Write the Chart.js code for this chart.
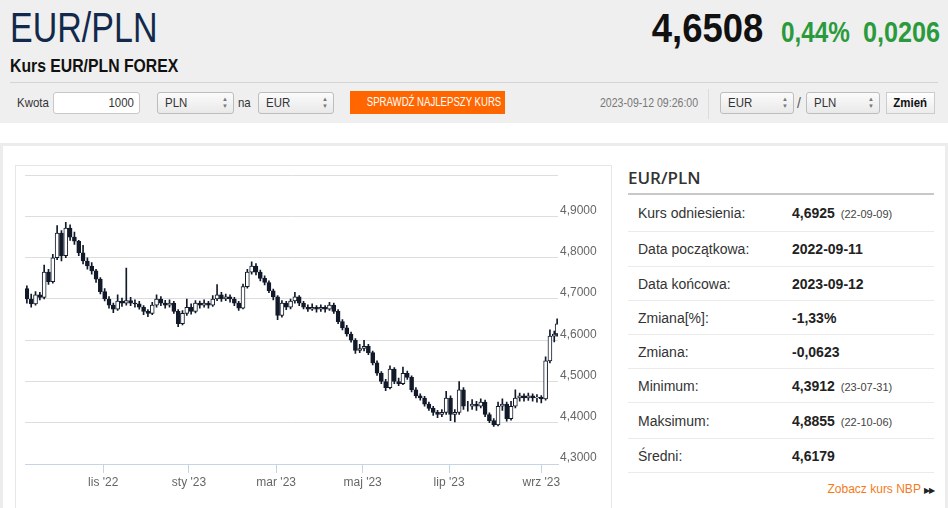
<!DOCTYPE html>
<html lang="pl">
<head>
<meta charset="utf-8">
<title>EUR/PLN</title>
<script src="https://cdn.jsdelivr.net/npm/chart.js@4.4.0/dist/chart.umd.min.js"></script>
<style>
body { margin: 0; width: 948px; height: 508px; overflow: hidden; background: #fff; position: relative; font-family: "Liberation Sans", Arial, sans-serif; color: #333; }
.abs { position: absolute; white-space: nowrap; }
/* no narrow font installed: squeeze Liberation Sans instead */
.sq { transform-origin: left center; }
.sqr { transform-origin: right center; }
.in { display: inline-block; transform-origin: left center; }
.sel { position: absolute; top: 92px; height: 20px; border: 1px solid #bdbdbd; border-radius: 3px; background: linear-gradient(#fbfbfb, #e9e9e9); font-size: 13px; line-height: 20px; padding-left: 7px; box-sizing: content-box; white-space: nowrap; }
.sel .in { transform: scaleX(.88); }
.sel .arr { position: absolute; right: 5px; top: 3px; font-size: 6px; line-height: 7px; color: #777; }
.row { position: absolute; left: 628px; width: 306px; border-bottom: 1px solid #ebebeb; }
.row .lab { position: absolute; left: 10px; top: 50%; transform: translateY(-50%); font-size: 14px; color: #333; white-space: nowrap; }
.row .val { position: absolute; left: 164px; top: 50%; transform: translateY(-50%); font-size: 14px; font-weight: bold; color: #222; white-space: nowrap; }
.row .val small { font-size: 11px; font-weight: normal; color: #444; margin-left: 6px; }
</style>
</head>
<body>

<!-- header -->
<div class="abs" style="left:0;top:0;width:948px;height:123px;background:#efefef"></div>
<div class="abs sq" style="left:10px;top:7px;font-size:42px;line-height:42px;color:#13294b;transform:scaleX(.81)">EUR/PLN</div>
<div class="abs sqr" style="right:185px;top:8px;font-size:41px;line-height:41px;font-weight:bold;color:#111;transform:scaleX(.89)">4,6508</div>
<div class="abs sq" style="left:781px;top:17px;font-size:30px;line-height:30px;font-weight:bold;color:#2a9a3c;transform:scaleX(.81)">0,44%</div>
<div class="abs sq" style="left:863px;top:17px;font-size:30px;line-height:30px;font-weight:bold;color:#2a9a3c;transform:scaleX(.84)">0,0206</div>
<div class="abs sq" style="left:10px;top:56px;font-size:19px;line-height:19px;font-weight:bold;color:#111;transform:scaleX(.83)">Kurs EUR/PLN FOREX</div>
<div class="abs" style="left:10px;top:82px;width:928px;height:1px;background:#d5d5d5"></div>

<div class="abs sq" style="left:17px;top:92px;font-size:13px;line-height:22px;transform:scaleX(.88)">Kwota</div>
<div class="abs" style="left:53px;top:92px;width:80px;height:20px;border:1px solid #c8c8c8;border-radius:3px;background:#fff;font-size:13px;line-height:20px;text-align:right;padding-right:5px"><span class="in" style="transform:scaleX(.88);transform-origin:right center">1000</span></div>
<div class="sel" style="left:157px;width:68px"><span class="in">PLN</span><div class="arr">▲<br>▼</div></div>
<div class="abs sq" style="left:238px;top:92px;font-size:13px;line-height:22px;transform:scaleX(.88)">na</div>
<div class="sel" style="left:258px;width:67px"><span class="in">EUR</span><div class="arr">▲<br>▼</div></div>
<div class="abs" style="left:350px;top:91px;width:155px;height:23px;background:#ff6600;color:#fff;font-size:12px;line-height:23px;text-align:center"><span class="in" style="transform:scaleX(.8);transform-origin:center">SPRAWDŹ NAJLEPSZY KURS</span></div>
<div class="abs sq" style="left:600px;top:92px;font-size:12px;line-height:22px;color:#777;transform:scaleX(.88)">2023-09-12 09:26:00</div>
<div class="abs" style="left:708px;top:89px;width:1px;height:30px;background:#dcdcdc"></div>
<div class="sel" style="left:720px;width:65px"><span class="in">EUR</span><div class="arr">▲<br>▼</div></div>
<div class="abs" style="left:797px;top:92px;font-size:14px;line-height:22px;color:#555">/</div>
<div class="sel" style="left:806px;width:65px"><span class="in">PLN</span><div class="arr">▲<br>▼</div></div>
<div class="abs" style="left:886px;top:92px;width:47px;height:20px;border:1px solid #ccc;background:linear-gradient(#fff,#ececec);font-size:13px;line-height:20px;font-weight:bold;text-align:center;color:#111"><span class="in" style="transform:scaleX(.88);transform-origin:center">Zmień</span></div>

<!-- page frame -->
<div class="abs" style="left:0;top:143px;width:948px;height:365px;background:#ececec"></div>
<div class="abs" style="left:3px;top:146px;width:942px;height:362px;background:#fff"></div>

<!-- chart box -->
<div class="abs" style="left:15px;top:165px;width:597px;height:400px;border:1px solid #e6e6e6;box-sizing:border-box"></div>
<div class="abs" style="left:16px;top:166px;width:596px;height:342px">
  <canvas id="fxChart"></canvas>
</div>

<!-- side table -->
<div class="abs" style="left:628px;top:169px;font-family:'Open Sans',sans-serif;font-weight:600;font-size:17px;line-height:17px;color:#333">EUR/PLN</div>
<div class="abs" style="left:628px;top:193px;width:306px;height:2px;background:#c8c8c8"></div>
<div class="row" style="top:195px;height:36px"><span class="lab">Kurs odniesienia:</span><span class="val">4,6925<small>(22-09-09)</small></span></div>
<div class="row" style="top:232px;height:34px"><span class="lab">Data początkowa:</span><span class="val">2022-09-11</span></div>
<div class="row" style="top:267px;height:33px"><span class="lab">Data końcowa:</span><span class="val">2023-09-12</span></div>
<div class="row" style="top:301px;height:33px"><span class="lab">Zmiana[%]:</span><span class="val">-1,33%</span></div>
<div class="row" style="top:335px;height:33px"><span class="lab">Zmiana:</span><span class="val">-0,0623</span></div>
<div class="row" style="top:369px;height:33px"><span class="lab">Minimum:</span><span class="val">4,3912<small>(23-07-31)</small></span></div>
<div class="row" style="top:403px;height:35px"><span class="lab">Maksimum:</span><span class="val">4,8855<small>(22-10-06)</small></span></div>
<div class="row" style="top:439px;height:33px"><span class="lab">Średni:</span><span class="val">4,6179</span></div>
<div class="abs" style="right:14px;top:482px;font-size:12px;line-height:14px;color:#f47b20">Zobacz kurs NBP <span style="font-size:8px;color:#222;letter-spacing:-1px">▶▶</span></div>

<script>
// days counted from 2022-09-12
const days = [-3, 0, 3, 6, 9, 12, 15, 18, 21, 24, 27, 30, 33, 36, 39, 42, 45, 48, 51, 54,
  57, 60, 63, 66, 69, 72, 75, 78, 81, 84, 87, 90, 93, 96, 99, 102, 105, 108, 111, 114,
  117, 120, 123, 126, 129, 132, 135, 138, 141, 144, 147, 150, 153, 156, 159, 162, 165, 168, 171, 174,
  177, 180, 183, 186, 189, 192, 195, 198, 201, 204, 207, 210, 213, 216, 219, 222, 225, 228, 231, 234,
  237, 240, 243, 246, 249, 252, 255, 258, 261, 264, 267, 270, 273, 276, 279, 282, 285, 288, 291, 294,
  297, 300, 303, 306, 309, 312, 315, 318, 321, 324, 327, 330, 333, 336, 339, 342, 345, 348, 351, 354,
  357, 360, 363, 365];

const opens = [4.725, 4.700, 4.688, 4.710, 4.704, 4.765, 4.742, 4.800, 4.860, 4.805,
  4.872, 4.850, 4.840, 4.812, 4.792, 4.780, 4.768, 4.748, 4.718, 4.700,
  4.685, 4.675, 4.695, 4.690, 4.696, 4.690, 4.688, 4.680, 4.670, 4.665,
  4.685, 4.700, 4.690, 4.685, 4.690, 4.670, 4.640, 4.665, 4.680, 4.670,
  4.690, 4.685, 4.690, 4.685, 4.700, 4.710, 4.700, 4.705, 4.700, 4.690,
  4.678, 4.730, 4.765, 4.780, 4.765, 4.750, 4.740, 4.720, 4.705, 4.660,
  4.690, 4.680, 4.695, 4.705, 4.690, 4.680, 4.675, 4.680, 4.675, 4.680,
  4.675, 4.685, 4.670, 4.645, 4.630, 4.615, 4.600, 4.575, 4.580, 4.585,
  4.570, 4.545, 4.520, 4.500, 4.485, 4.530, 4.500, 4.495, 4.520, 4.510,
  4.480, 4.465, 4.460, 4.445, 4.435, 4.425, 4.420, 4.425, 4.460, 4.420,
  4.425, 4.480, 4.440, 4.440, 4.445, 4.440, 4.450, 4.420, 4.405, 4.395,
  4.440, 4.445, 4.410, 4.440, 4.460, 4.465, 4.460, 4.465, 4.460, 4.462,
  4.458, 4.550, 4.610, 4.615];

const highs = [4.732, 4.712, 4.718, 4.716, 4.782, 4.772, 4.808, 4.878, 4.866, 4.886,
  4.880, 4.862, 4.842, 4.830, 4.800, 4.788, 4.772, 4.752, 4.725, 4.706,
  4.690, 4.710, 4.702, 4.775, 4.704, 4.698, 4.694, 4.684, 4.674, 4.692,
  4.710, 4.706, 4.697, 4.698, 4.694, 4.674, 4.672, 4.700, 4.688, 4.696,
  4.695, 4.698, 4.694, 4.708, 4.735, 4.716, 4.712, 4.710, 4.704, 4.694,
  4.736, 4.772, 4.790, 4.786, 4.770, 4.756, 4.744, 4.724, 4.708, 4.696,
  4.694, 4.700, 4.716, 4.708, 4.694, 4.686, 4.688, 4.684, 4.686, 4.684,
  4.692, 4.690, 4.674, 4.650, 4.636, 4.620, 4.604, 4.590, 4.600, 4.590,
  4.574, 4.550, 4.524, 4.505, 4.538, 4.534, 4.508, 4.535, 4.525, 4.514,
  4.485, 4.470, 4.464, 4.450, 4.440, 4.430, 4.432, 4.476, 4.465, 4.432,
  4.500, 4.485, 4.452, 4.456, 4.452, 4.458, 4.455, 4.424, 4.410, 4.450,
  4.458, 4.450, 4.452, 4.480, 4.472, 4.470, 4.472, 4.470, 4.468, 4.466,
  4.560, 4.625, 4.622, 4.652];

const lows = [4.690, 4.680, 4.685, 4.698, 4.700, 4.735, 4.738, 4.795, 4.792, 4.800,
  4.842, 4.832, 4.805, 4.785, 4.772, 4.760, 4.740, 4.712, 4.695, 4.678,
  4.667, 4.672, 4.682, 4.685, 4.684, 4.680, 4.675, 4.662, 4.657, 4.662,
  4.680, 4.684, 4.678, 4.680, 4.665, 4.633, 4.637, 4.660, 4.663, 4.666,
  4.678, 4.680, 4.678, 4.682, 4.696, 4.694, 4.696, 4.692, 4.684, 4.672,
  4.676, 4.726, 4.760, 4.758, 4.744, 4.734, 4.715, 4.698, 4.650, 4.656,
  4.674, 4.676, 4.690, 4.684, 4.676, 4.670, 4.672, 4.668, 4.670, 4.668,
  4.672, 4.665, 4.640, 4.625, 4.610, 4.595, 4.568, 4.570, 4.574, 4.565,
  4.540, 4.515, 4.495, 4.478, 4.482, 4.495, 4.490, 4.492, 4.505, 4.475,
  4.460, 4.455, 4.440, 4.430, 4.418, 4.412, 4.415, 4.420, 4.405, 4.402,
  4.420, 4.432, 4.428, 4.432, 4.430, 4.436, 4.415, 4.400, 4.391, 4.392,
  4.430, 4.404, 4.406, 4.436, 4.452, 4.452, 4.454, 4.452, 4.450, 4.448,
  4.455, 4.545, 4.596, 4.610];

const closes = [4.700, 4.688, 4.710, 4.704, 4.765, 4.742, 4.800, 4.860, 4.805, 4.872,
  4.850, 4.840, 4.812, 4.792, 4.780, 4.768, 4.748, 4.718, 4.700, 4.685,
  4.675, 4.695, 4.690, 4.696, 4.690, 4.688, 4.680, 4.670, 4.665, 4.685,
  4.700, 4.690, 4.685, 4.690, 4.670, 4.640, 4.665, 4.680, 4.670, 4.690,
  4.685, 4.690, 4.685, 4.700, 4.710, 4.700, 4.705, 4.700, 4.690, 4.678,
  4.730, 4.765, 4.780, 4.765, 4.750, 4.740, 4.720, 4.705, 4.660, 4.690,
  4.680, 4.695, 4.705, 4.690, 4.680, 4.675, 4.680, 4.675, 4.680, 4.675,
  4.685, 4.670, 4.645, 4.630, 4.615, 4.600, 4.575, 4.580, 4.585, 4.570,
  4.545, 4.520, 4.500, 4.485, 4.530, 4.500, 4.495, 4.520, 4.510, 4.480,
  4.465, 4.460, 4.445, 4.435, 4.425, 4.420, 4.425, 4.460, 4.420, 4.425,
  4.480, 4.440, 4.440, 4.445, 4.440, 4.450, 4.420, 4.405, 4.395, 4.440,
  4.445, 4.410, 4.440, 4.460, 4.465, 4.460, 4.465, 4.460, 4.462, 4.458,
  4.550, 4.610, 4.615, 4.640];

const monthTickDays = [50, 109.5, 170, 230, 290, 354];
const monthTickLabels = ["lis '22", "sty '23", "mar '23", "maj '23", "lip '23", "wrz '23"];
const priceTicks = [4.3, 4.4, 4.5, 4.6, 4.7, 4.8, 4.9, 5.0];

function createFxChart() {
    const ctx = document.getElementById('fxChart').getContext('2d');
    const tickFont = { family: '"Liberation Sans", Arial, sans-serif', size: 12 };

    new Chart(ctx, {
        type: 'bar',
        data: {
            datasets: [{
                label: 'body',
                data: days.map((d, i) => ({ x: d, y: [opens[i], closes[i]] })),
                backgroundColor: c => closes[c.dataIndex] >= opens[c.dataIndex] ? '#ffffff' : '#121a2a',
                borderColor: '#121a2a',
                borderWidth: 1,
                borderSkipped: false,
                barThickness: 4,
                grouped: false
            },
            {
                label: 'wick',
                data: days.map((d, i) => ({ x: d, y: [lows[i], highs[i]] })),
                backgroundColor: '#121a2a',
                borderWidth: 0,
                barThickness: 1,
                grouped: false
            }]
        },
        options: {
            responsive: true,
            maintainAspectRatio: false,
            animation: false,
            layout: {
                padding: { left: 9, top: 9, right: 0, bottom: 0 }
            },
            plugins: {
                legend: { display: false },
                tooltip: { enabled: false }
            },
            scales: {
                x: {
                    type: 'linear',
                    min: -4.3,
                    max: 365.6,
                    offset: false,
                    afterBuildTicks: s => { s.ticks = monthTickDays.map(v => ({ value: v })); },
                    afterFit: s => { s.height = 44; },
                    ticks: {
                        autoSkip: false,
                        maxRotation: 0,
                        padding: 2,
                        color: '#666',
                        font: tickFont,
                        callback: (v, i) => monthTickLabels[i]
                    },
                    grid: {
                        offset: false,
                        drawOnChartArea: false,
                        drawTicks: true,
                        tickLength: 9,
                        color: '#c5d5e6'
                    },
                    border: { display: true, color: '#c5d5e6', width: 1 }
                },
                y: {
                    position: 'right',
                    min: 4.3,
                    max: 5.0,
                    afterBuildTicks: s => { s.ticks = priceTicks.map(v => ({ value: v })); },
                    afterFit: s => { s.width = 54; },
                    ticks: {
                        padding: 2,
                        labelOffset: -6,
                        color: '#666',
                        font: tickFont,
                        callback: v => v >= 4.99 ? '' : v.toFixed(4).replace('.', ',')
                    },
                    grid: {
                        color: '#dddddd',
                        lineWidth: 1,
                        drawTicks: false
                    },
                    border: { display: false }
                }
            }
        }
    });
}

createFxChart();
</script>
</body>
</html>
